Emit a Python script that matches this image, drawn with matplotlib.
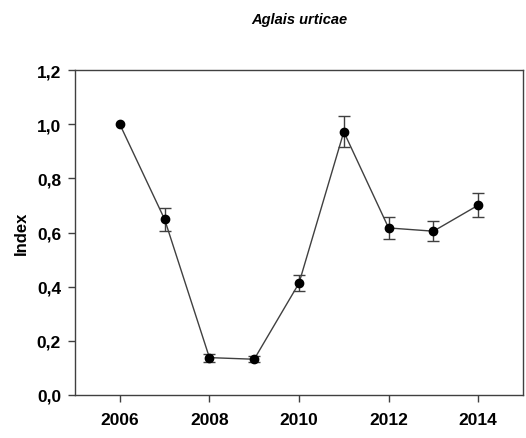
import matplotlib
matplotlib.use("Agg")
import matplotlib.pyplot as plt
from matplotlib.ticker import FuncFormatter

# Data
years = [2006, 2007, 2008, 2009, 2010, 2011, 2012, 2013, 2014]
index = [1.0, 0.649, 0.138, 0.132, 0.413, 0.972, 0.617, 0.605, 0.701]
err = [float('nan'), 0.043, 0.015, 0.012, 0.030, 0.057, 0.039, 0.038, 0.044]

plt.rcParams['font.family'] = ['Liberation Sans', 'DejaVu Sans']

fig = plt.figure(figsize=(5.26, 4.39), dpi=100)
ax = fig.add_axes([0.1426, 0.098, 0.8517, 0.740])

ax.errorbar(years, index, yerr=err, fmt='-', color='#404040', lw=1.0,
            ecolor='#404040', elinewidth=1.0, capsize=4, capthick=1.0, zorder=2)
ax.plot(years, index, 'o', color='black', markersize=6, zorder=3)

ax.set_xlim(2005, 2015)
ax.set_ylim(0, 1.2)
ax.set_xticks([2006, 2008, 2010, 2012, 2014])
ax.set_yticks([0, 0.2, 0.4, 0.6, 0.8, 1.0, 1.2])
ax.yaxis.set_major_formatter(FuncFormatter(lambda v, p: f'{v:.1f}'.replace('.', ',')))

for lab in ax.get_xticklabels() + ax.get_yticklabels():
    lab.set_fontweight('bold')
ax.tick_params(axis='both', labelsize=12.5, direction='out', length=5, width=1, color='#404040')
ax.tick_params(axis='x', pad=7)
ax.tick_params(axis='y', pad=5)
for s in ax.spines.values():
    s.set_color('#404040')
    s.set_linewidth(1.0)

ax.set_ylabel('Index', fontsize=12, fontweight='bold', labelpad=6)
fig.text(0.569, 0.955, 'Aglais urticae', ha='center', va='center',
         fontsize=10.5, fontweight='bold', fontstyle='italic')

fig.savefig('out.png', dpi=100)
